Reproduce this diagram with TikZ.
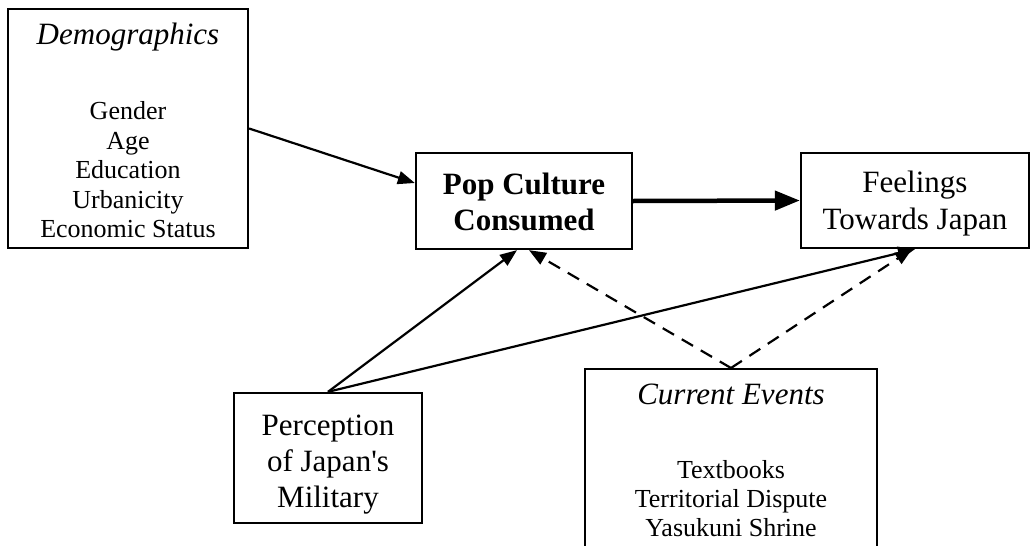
\documentclass[tikz,border=0pt]{standalone}
\usepackage{fontspec}
\setmainfont{Liberation Serif}[Ligatures=TeXOff]
\usetikzlibrary{arrows.meta}
\begin{document}
\begin{tikzpicture}[x=1pt,y=-1pt,
  box/.style={draw,line width=2.3pt,inner sep=0pt,rectangle},
  big/.style={font=\fontsize{31}{36}\selectfont,align=center,inner sep=0pt},
  small/.style={font=\fontsize{26}{29.5}\selectfont,align=center,inner sep=0pt},
  conn/.style={line width=2.2pt,-{Triangle[length=17pt,width=13pt]}},
  thickconn/.style={line width=4.5pt,-{Triangle[length=25pt,width=19pt]}},
  dconn/.style={conn,dash pattern=on 13pt off 9pt}]
\useasboundingbox (0,0) rectangle (1031,546);
\clip (0,0) rectangle (1031,546);
\node[box,minimum width=240pt,minimum height=239pt] (demo) at (128,128.5) {};
\node[box,minimum width=216pt,minimum height=96pt] (pop) at (524,201) {};
\node[box,minimum width=228pt,minimum height=95pt] (feel) at (915,200.5) {};
\node[box,minimum width=188pt,minimum height=130pt] (perc) at (328,458) {};
\node[box,minimum width=292pt,minimum height=240pt,anchor=north] (curr) at (731,368) {};
\node[big,font=\fontsize{31}{36}\selectfont\itshape] (demot) at (128,37) {Demographics};
\node[small] (demoi) at (128,170) {Gender\\Age\\Education\\Urbanicity\\Economic Status};
\node[big,font=\fontsize{31}{36}\selectfont\bfseries] (popt) at (524,202) {Pop Culture\\Consumed};
\node[big,font=\fontsize{31}{37}\selectfont] (feelt) at (915,204) {Feelings\\Towards Japan};
\node[big] (perct) at (328,465) {Perception\\of Japan's\\Military};
\node[big,font=\fontsize{31}{36}\selectfont\itshape] (currt) at (731,394) {Current Events};
\node[small,font=\fontsize{26}{29}\selectfont] (curri) at (731,499) {Textbooks\\Territorial Dispute\\Yasukuni Shrine};
\draw[conn] (demo.east) -- ([yshift=18pt]pop.west);
\draw[thickconn] (pop.east) -- (feel.west);
\draw[conn] (perc.north) -- ([xshift=-7pt]pop.south);
\draw[conn] (perc.north) -- (feel.south);
\draw[dconn] (curr.north) -- ([xshift=5pt]pop.south);
\draw[dconn] (curr.north) -- ([xshift=-3pt]feel.south);
\end{tikzpicture}
\end{document}
